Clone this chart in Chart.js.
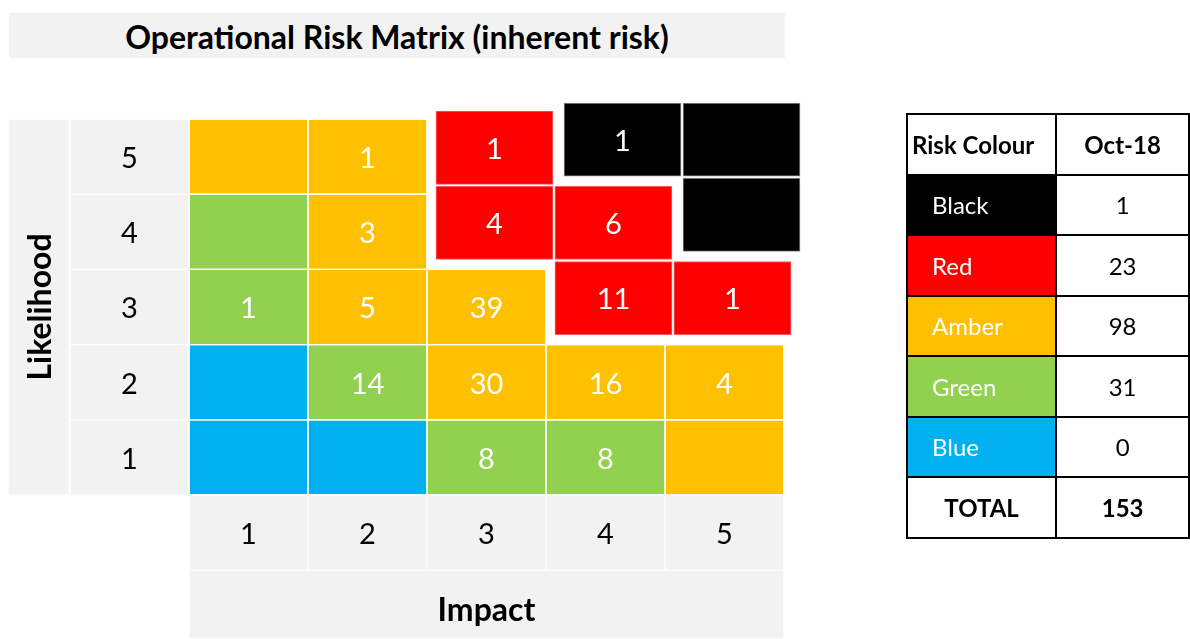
<!DOCTYPE html>
<html>
<head>
<meta charset="utf-8">
<script src="https://cdn.jsdelivr.net/npm/chart.js@4.4.1/dist/chart.umd.min.js"></script>
<style>
html,body{margin:0;padding:0;background:#fff;width:1190px;height:639px;overflow:hidden;font-family:Lato,"Open Sans",sans-serif;}
#wrap{position:relative;width:1190px;height:639px;}
#chart{position:absolute;left:0;top:0;}
#title{position:absolute;left:9px;top:13px;width:776px;height:45px;background:#f2f2f2;text-align:center;line-height:47px;font-weight:bold;font-size:32px;color:#000;}
#tbl{position:absolute;left:906px;top:113px;border-collapse:collapse;table-layout:fixed;}
#tbl td{border:2px solid #000;padding:0;font-size:24px;color:#000;height:58.5px;text-align:center;}
#tbl td.name{text-align:left;padding-left:24px;color:#fff;}
#tbl td.hdr{font-weight:bold;}
#tbl td.hl{text-align:left;padding-left:4px;}
</style>
</head>
<body>
<div id="wrap">
<canvas id="chart" width="1190" height="639"></canvas>
<div id="title"></div>
<table id="tbl"><colgroup><col style="width:150px"><col style="width:134px"></colgroup><tbody id="tbody"></tbody></table>
</div>
<script>
// ---------------- data ----------------
const titleText = 'Operational Risk Matrix (inherent risk)';
const xAxisTitle = 'Impact';
const yAxisTitle = 'Likelihood';
const impactLabels = ['1', '2', '3', '4', '5'];
const likelihoodLabels = ['5', '4', '3', '2', '1'];
// rows: likelihood 5 -> 1, columns: impact 1 -> 5
const riskColourGrid = [
  ['Amber', 'Amber', 'Red',   'Black', 'Black'],
  ['Green', 'Amber', 'Red',   'Red',   'Black'],
  ['Green', 'Amber', 'Amber', 'Red',   'Red'],
  ['Blue',  'Green', 'Amber', 'Amber', 'Amber'],
  ['Blue',  'Blue',  'Green', 'Green', 'Amber']
];
const riskCounts = [
  [null, 1,    1,  1,  null],
  [null, 3,    4,  6,  null],
  [1,    5,    39, 11, 1],
  [null, 14,   30, 16, 4],
  [null, null, 8,  8,  null]
];
const tableHeaders = ['Risk Colour', 'Oct-18'];
const riskColours = ['Black', 'Red', 'Amber', 'Green', 'Blue'];
const oct18Counts = [1, 23, 98, 31, 0];
const totalLabel = 'TOTAL';
const totalCount = 153;

// ---------------- styles ----------------
const FILL = {Black: '#000000', Red: '#ff0000', Amber: '#ffc000', Green: '#92d050', Blue: '#00b0f0'};
const EDGE = {Black: '#8c8c8c', Red: '#ff5a5a', Amber: '#ffc000', Green: '#92d050', Blue: '#00b0f0'};
const SHIFT = {Black: {dx: 0.143, dy: 0.226}, Red: {dx: 0.067, dy: 0.118}, Amber: {dx: 0, dy: 0}, Green: {dx: 0, dy: 0}, Blue: {dx: 0, dy: 0}};
const HEADER_FILL = '#f2f2f2';
const PX_X = 119, PX_Y = 75.2;           // pixels per data unit
const X_MIN = 0.5 - 189 / PX_X, X_MAX = X_MIN + 1190 / PX_X;
const Y_MAX = 5.5 + 119 / PX_Y, Y_MIN = Y_MAX - 639 / PX_Y;
const GAP = 1 / PX_Y;
const CELL_W = 117;
const NUM_FONT = '29px Lato, "Open Sans", sans-serif';
const BOLD_FONT = 'bold 32px Lato, "Open Sans", sans-serif';

// ---------------- html parts ----------------
document.getElementById('title').textContent = titleText;
const tb = document.getElementById('tbody');
function addRow(cells) {
  const tr = document.createElement('tr');
  cells.forEach(c => {
    const td = document.createElement('td');
    td.textContent = c.text;
    if (c.cls) td.className = c.cls;
    if (c.bg) td.style.background = c.bg;
    tr.appendChild(td);
  });
  tb.appendChild(tr);
}
addRow([{text: tableHeaders[0], cls: 'hdr hl'}, {text: tableHeaders[1], cls: 'hdr'}]);
riskColours.forEach((rc, i) => addRow([{text: rc, cls: 'name', bg: FILL[rc]}, {text: String(oct18Counts[i])}]));
addRow([{text: totalLabel, cls: 'hdr'}, {text: String(totalCount), cls: 'hdr'}]);

// ---------------- chart datasets ----------------
const rowValue = r => 5 - r; // grid row index -> likelihood value
const datasets = [];

// likelihood number column (x = 0) and impact number row (y = 0)
const hdrData = [], hdrLabels = [];
likelihoodLabels.forEach((lab, r) => {
  const y = rowValue(r);
  hdrData.push({x: 0, y: [y - 0.5 + GAP, y + 0.5 - GAP]});
  hdrLabels.push(lab);
});
impactLabels.forEach((lab, c) => {
  hdrData.push({x: c + 1, y: [-0.5 + GAP, 0.5 - GAP]});
  hdrLabels.push(lab);
});
datasets.push({data: hdrData, cellLabels: hdrLabels, backgroundColor: HEADER_FILL, barThickness: CELL_W,
  labelFont: NUM_FONT, labelColor: '#000', labelDy: 2});

// axis title cells
datasets.push({data: [{x: -0.765, y: [0.5 + GAP, 5.5 - GAP]}], cellLabels: [yAxisTitle], backgroundColor: HEADER_FILL,
  barThickness: 59, labelFont: BOLD_FONT, labelColor: '#000', labelRotate: -Math.PI / 2, labelDy: 0});
datasets.push({data: [{x: 3, y: [-1.4, -0.5 - GAP]}], cellLabels: [xAxisTitle], backgroundColor: HEADER_FILL,
  barThickness: 593, labelFont: BOLD_FONT, labelColor: '#000', labelDy: 6});

// risk cells, one dataset per colour
riskColours.forEach(col => {
  const d = [], l = [];
  riskColourGrid.forEach((row, r) => row.forEach((cc, c) => {
    if (cc !== col) return;
    const y = rowValue(r) + SHIFT[col].dy;
    d.push({x: c + 1 + SHIFT[col].dx, y: [y - 0.5 + GAP, y + 0.5 - GAP]});
    l.push(riskCounts[r][c]);
  }));
  datasets.push({data: d, cellLabels: l, backgroundColor: FILL[col], borderColor: EDGE[col], borderWidth: 1,
    barThickness: CELL_W, labelFont: NUM_FONT, labelColor: '#fff', labelDy: 2});
});
datasets.forEach(ds => { ds.grouped = false; ds.clip = false; ds.borderSkipped = false; if (ds.borderWidth === undefined) ds.borderWidth = 0; });

const cellLabelPlugin = {
  id: 'cellLabels',
  afterDatasetsDraw(chart) {
    const ctx = chart.ctx;
    chart.data.datasets.forEach((ds, i) => {
      const meta = chart.getDatasetMeta(i);
      meta.data.forEach((el, j) => {
        const t = ds.cellLabels[j];
        if (t === null || t === undefined) return;
        const p = el.getCenterPoint();
        ctx.save();
        ctx.font = ds.labelFont;
        ctx.fillStyle = ds.labelColor;
        ctx.textAlign = 'center';
        ctx.textBaseline = 'middle';
        ctx.translate(p.x + (ds.labelRotate ? 2 : 0), p.y + ds.labelDy);
        if (ds.labelRotate) ctx.rotate(ds.labelRotate);
        ctx.fillText(String(t), 0, 0);
        ctx.restore();
      });
    });
  }
};

new Chart(document.getElementById('chart'), {
  type: 'bar',
  data: {datasets},
  options: {
    responsive: false,
    animation: false,
    layout: {padding: 0},
    plugins: {legend: {display: false}, tooltip: {enabled: false}, title: {display: false}},
    scales: {
      x: {type: 'linear', min: X_MIN, max: X_MAX, offset: false, display: false},
      y: {type: 'linear', min: Y_MIN, max: Y_MAX, offset: false, display: false}
    }
  },
  plugins: [cellLabelPlugin]
});
</script>
</body>
</html>
